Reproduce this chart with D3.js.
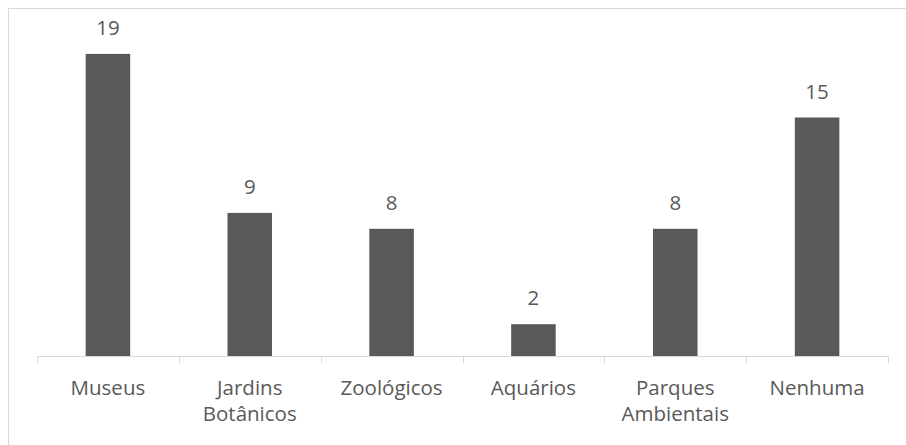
<!DOCTYPE html>
<html>
<head>
<meta charset="utf-8">
<script src="https://cdn.jsdelivr.net/npm/d3@7"></script>
<style>
  html, body { margin: 0; padding: 0; background: #fff; }
  svg { display: block; }
  text { font-family: "Open Sans", "Noto Sans", sans-serif; fill: #595959; }
</style>
</head>
<body>
<svg id="chart" width="906" height="445"></svg>
<script>
// Categories (each entry lists the label's lines) and counts
const categories = ["Museus", "Jardins Botânicos", "Zoológicos", "Aquários", "Parques Ambientais", "Nenhuma"];
const labelLines = [["Museus"], ["Jardins", "Botânicos"], ["Zoológicos"], ["Aquários"], ["Parques", "Ambientais"], ["Nenhuma"]];
const values = [19, 9, 8, 2, 8, 15];

const svg = d3.select("#chart");
const W = 906, H = 445;

// Chart-area frame (extends past the right/bottom edges)
svg.append("rect")
  .attr("x", 8.5).attr("y", 8.5)
  .attr("width", W + 10).attr("height", H + 10)
  .attr("fill", "none").attr("stroke", "#d9d9d9").attr("stroke-width", 1);

const left = 37, right = 888, baseY = 356, topY = 38;

const x = d3.scaleBand().domain(categories).range([left, right]).padding(0);
const y = d3.scaleLinear().domain([0, 20]).range([baseY, topY]);

const barW = x.bandwidth() * 0.314;
const fs = 20.5;

// Bars
svg.append("g").selectAll("rect")
  .data(categories)
  .join("rect")
  .attr("x", (d) => x(d) + x.bandwidth() / 2 - barW / 2)
  .attr("y", (d, i) => y(values[i]))
  .attr("width", barW)
  .attr("height", (d, i) => baseY - y(values[i]))
  .attr("fill", "#595959");

// Value labels
svg.append("g").selectAll("text")
  .data(categories)
  .join("text")
  .attr("x", (d) => x(d) + x.bandwidth() / 2)
  .attr("y", (d, i) => y(values[i]) - 19)
  .attr("text-anchor", "middle")
  .attr("font-size", fs)
  .text((d, i) => values[i]);

// Category axis: baseline with tick marks between categories
const axis = d3.axisBottom(x).tickSize(0).tickFormat("");
const gAxis = svg.append("g").attr("transform", `translate(0,${baseY + 0.5})`).call(axis);
gAxis.select(".domain").attr("stroke", "#d9d9d9").attr("d", `M${left},0H${right}`);

const boundaries = categories.map((d) => x(d)).concat([right]);
svg.append("g").selectAll("line")
  .data(boundaries)
  .join("line")
  .attr("x1", (d) => Math.round(d) + 0.5).attr("x2", (d) => Math.round(d) + 0.5)
  .attr("y1", baseY).attr("y2", baseY + 7)
  .attr("stroke", "#d9d9d9");

// Category labels (multi-line)
const lab = svg.append("g").selectAll("text")
  .data(categories)
  .join("text")
  .attr("x", (d) => x(d) + x.bandwidth() / 2)
  .attr("y", 395)
  .attr("text-anchor", "middle")
  .attr("font-size", fs);
lab.each(function (d, i) {
  d3.select(this).selectAll("tspan")
    .data(labelLines[i])
    .join("tspan")
    .attr("x", x(d) + x.bandwidth() / 2)
    .attr("dy", (t, j) => (j === 0 ? 0 : 25.5))
    .text((t) => t);
});
</script>
</body>
</html>
